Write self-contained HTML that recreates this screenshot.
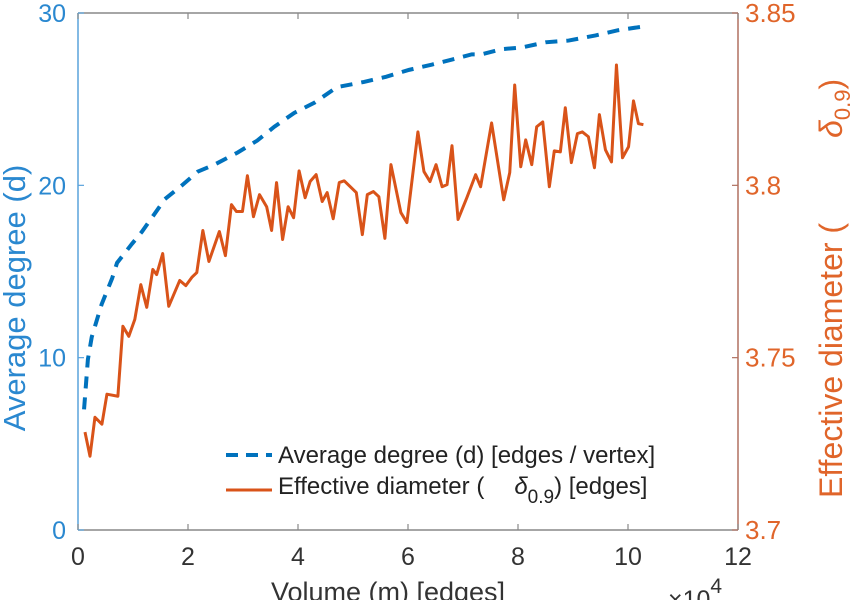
<!DOCTYPE html>
<html><head><meta charset="utf-8"><style>
html,body{margin:0;padding:0;background:#fff;}
svg{display:block;font-family:"Liberation Sans",sans-serif;}
</style></head><body>
<svg id="chart" width="856" height="600" viewBox="0 0 856 600" xmlns="http://www.w3.org/2000/svg"></svg>
<script>
const xTicks=[0,2,4,6,8,10,12];
const leftTicks=[0,10,20,30];
const rightTicks=[3.7,3.75,3.8,3.85];
const rightTickLabels=["3.7","3.75","3.8","3.85"];
const degX=[0.11,0.18,0.25,0.43,0.62,0.71,0.98,1.16,1.36,1.58,1.89,2.18,2.48,2.90,3.26,3.57,3.93,4.30,4.71,5.20,5.60,6.02,6.43,6.80,7.16,7.34,7.70,8.07,8.50,8.92,9.41,9.82,10.24,10.33];
const degY=[7.0,9.9,11.2,13.1,14.6,15.5,16.6,17.3,18.2,19.2,20.0,20.8,21.2,21.9,22.6,23.4,24.2,24.8,25.7,26.0,26.3,26.7,27.0,27.3,27.6,27.6,27.9,28.0,28.3,28.4,28.7,29.0,29.2,29.2];
const diaX=[0.127,0.218,0.308,0.435,0.526,0.725,0.816,0.924,1.033,1.142,1.25,1.36,1.43,1.54,1.65,1.85,1.96,2.07,2.16,2.27,2.38,2.57,2.68,2.79,2.88,2.99,3.08,3.19,3.30,3.43,3.52,3.61,3.72,3.82,3.92,4.02,4.13,4.22,4.33,4.44,4.53,4.64,4.75,4.84,5.06,5.17,5.26,5.37,5.47,5.58,5.69,5.87,5.98,6.18,6.29,6.40,6.51,6.62,6.71,6.80,6.91,7.07,7.23,7.32,7.52,7.74,7.85,7.94,8.05,8.14,8.25,8.34,8.45,8.57,8.66,8.77,8.86,8.97,9.08,9.17,9.28,9.39,9.48,9.59,9.70,9.79,9.90,10.01,10.10,10.19,10.28];
const diaY=[3.7284,3.7214,3.7327,3.7307,3.7394,3.7388,3.7591,3.7562,3.7611,3.7712,3.7646,3.7756,3.7741,3.7802,3.7649,3.7724,3.7709,3.7733,3.7747,3.7869,3.7779,3.7866,3.7796,3.7944,3.7924,3.7924,3.8028,3.7909,3.7973,3.7938,3.7869,3.8008,3.7843,3.7938,3.7906,3.8042,3.7964,3.8011,3.8031,3.7953,3.7979,3.7903,3.8008,3.8013,3.7979,3.7857,3.7973,3.7982,3.7967,3.7846,3.8060,3.7921,3.7892,3.8155,3.8040,3.8011,3.8060,3.7996,3.8002,3.8115,3.7901,3.7964,3.8031,3.7996,3.8181,3.7958,3.8037,3.8291,3.8054,3.8132,3.8060,3.8170,3.8184,3.7996,3.8100,3.8097,3.8225,3.8066,3.8150,3.8155,3.8141,3.8051,3.8205,3.8103,3.8068,3.8349,3.8080,3.8112,3.8245,3.8179,3.8176];

const L=78,R=738,T=13,B=530;
const sx=v=>L+(v-0)/12*(R-L);
const syL=v=>B-(v/30)*(B-T);
const syR=v=>B-((v-3.7)/0.15)*(B-T);
const svg=document.getElementById('chart');
const NS='http://www.w3.org/2000/svg';
function mk(tag,attrs,parent){const e=document.createElementNS(NS,tag);for(const k in attrs)e.setAttribute(k,attrs[k]);(parent||svg).appendChild(e);return e;}
const BLUE='#0072BD',BLUET='#2a88d0',ORANGE='#D95319',ORT='#e0652a';

let e;
e=mk('line',{x1:L,y1:T,x2:R,y2:T,stroke:'#888','stroke-width':1.5});


e=mk('line',{x1:L,y1:B,x2:R,y2:B,stroke:'#888','stroke-width':1.5});


e=mk('line',{x1:L,y1:T,x2:L,y2:B,stroke:'#5aa3dc','stroke-width':1.5});


e=mk('line',{x1:R,y1:T,x2:R,y2:B,stroke:'#b07060','stroke-width':1.5});



xTicks.forEach(t=>{
  const x=sx(t);
  e=mk('line',{x1:x,y1:B,x2:x,y2:B-6,stroke:'#888','stroke-width':1.2});
  
  
  e=mk('line',{x1:x,y1:T,x2:x,y2:T+6,stroke:'#888','stroke-width':1.2});
  
  
  e=mk('text',{x:x,y:B+35,'text-anchor':'middle','font-size':25,fill:'#333'});
  e.textContent=String(t);
  
  
});
leftTicks.forEach(t=>{
  const y=syL(t);
  e=mk('line',{x1:L,y1:y,x2:L+6,y2:y,stroke:'#5aa3dc','stroke-width':1.2});
  
  
  e=mk('text',{x:L-12,y:y+9,'text-anchor':'end','font-size':25,fill:BLUET});
  e.textContent=String(t);
  
  
});
rightTicks.forEach((t,i)=>{
  const y=syR(t);
  e=mk('line',{x1:R,y1:y,x2:R-6,y2:y,stroke:'#b07060','stroke-width':1.2});
  
  
  e=mk('text',{x:R+7,y:y+9,'font-size':26,fill:ORT});
  e.textContent=rightTickLabels[i];
  
  
});

e=mk('polyline',{points:degX.map((v,i)=>sx(v)+','+syL(degY[i])).join(' '),fill:'none',stroke:BLUE,'stroke-width':4,'stroke-dasharray':'12,9'});


e=mk('polyline',{points:diaX.map((v,i)=>sx(v)+','+syR(diaY[i])).join(' '),fill:'none',stroke:ORANGE,'stroke-width':3,'stroke-linejoin':'round'});



e=mk('text',{x:388,y:601,'text-anchor':'middle','font-size':27,fill:'#333'});
e.textContent='Volume (m) [edges]';


e=mk('text',{x:668,y:608,'font-size':25,fill:'#333'});
e.innerHTML='×10<tspan dy="-15" font-size="21">4</tspan>';


e=mk('text',{x:0,y:0,'text-anchor':'middle','font-size':31,fill:BLUET,transform:'translate(25,298) rotate(-90)'});
e.textContent='Average degree (d)';


e=mk('text',{x:0,y:0,'text-anchor':'start','font-size':32,fill:ORT,transform:'translate(842,498) rotate(-90)'});
e.innerHTML='Effective diameter (<tspan dx="85" font-style="italic">δ</tspan><tspan dy="8" font-size="22">0.9</tspan><tspan dy="-8">)</tspan>';



const lg=mk('g',{});


e=mk('line',{x1:226,y1:455,x2:272,y2:455,stroke:BLUE,'stroke-width':4,'stroke-dasharray':'12,8'},lg);


e=mk('text',{x:278,y:463,'font-size':24,fill:'#222'},lg);
e.textContent='Average degree (d) [edges / vertex]';


e=mk('line',{x1:226,y1:490,x2:272,y2:490,stroke:ORANGE,'stroke-width':3},lg);


e=mk('text',{x:278,y:494,'font-size':24,fill:'#222'},lg);
e.innerHTML='Effective diameter (<tspan dx="30" font-style="italic">δ</tspan><tspan dy="9" font-size="19">0.9</tspan><tspan dy="-9">) [edges]</tspan>';


</script>
</body></html>
